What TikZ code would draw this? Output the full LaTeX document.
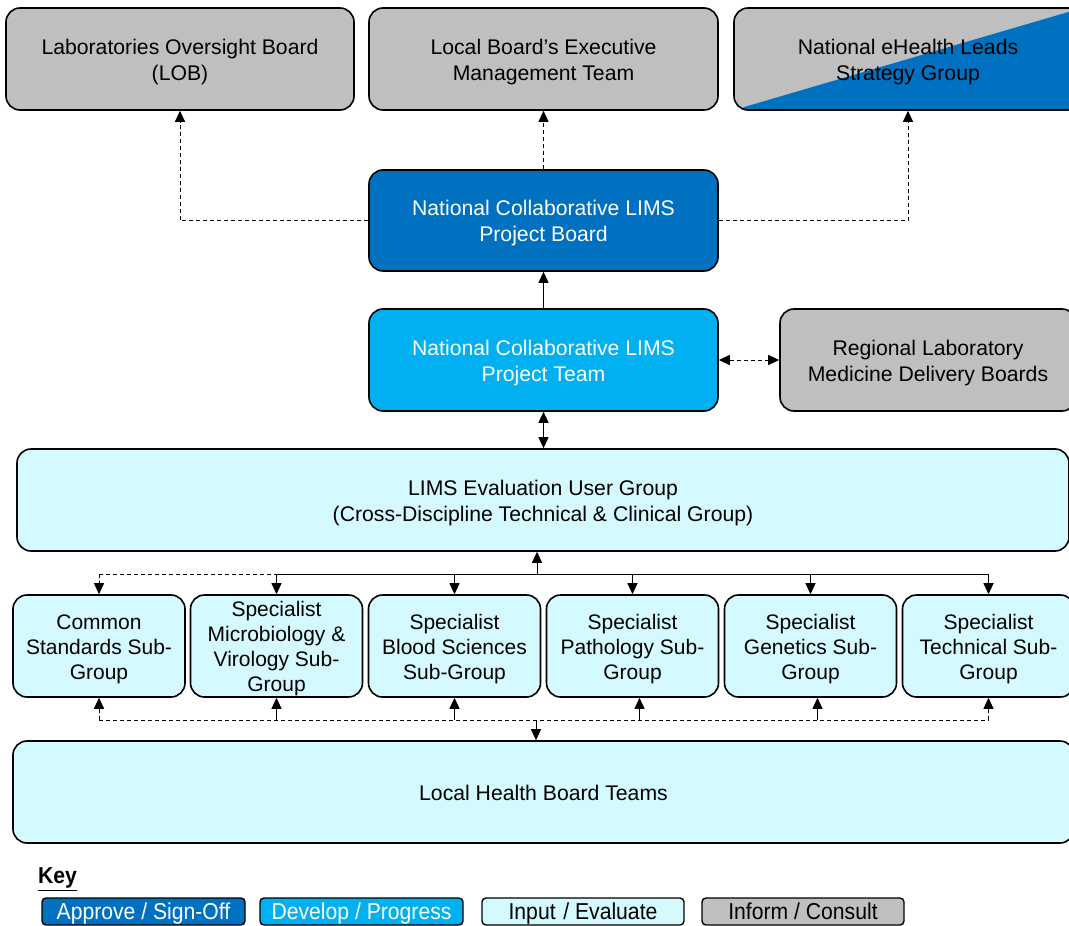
\documentclass[tikz,border=0pt]{standalone}
\usepackage{fontspec}
\setmainfont{Liberation Sans}
\newfontfamily\narrowfont[FakeStretch=0.92]{Liberation Sans}
\usetikzlibrary{arrows.meta}

\definecolor{approveblue}{HTML}{0070C0}
\definecolor{developblue}{HTML}{00B0F0}
\definecolor{inputcyan}{HTML}{D4F9FF}
\definecolor{informgray}{HTML}{BFBFBF}

% centred block of lines, set slightly below the box centre
\newcommand\boxlines[1]{\raisebox{-3pt}[\height][\depth]{\begin{tabular}{@{}c@{}}#1\end{tabular}}}

\begin{document}
\begin{tikzpicture}[x=1pt,y=-1pt,
  box/.style={draw=black, line width=1.6pt, rounded corners=14pt, align=center,
    inner sep=0pt, font=\fontsize{21.2}{26}\selectfont},
  bigbox/.style={box, minimum height=102pt},
  subbox/.style={box, minimum width=172pt, minimum height=102pt, font=\fontsize{21}{25}\selectfont},
  keybox/.style={draw=black, line width=1.4pt, rounded corners=4pt, minimum height=27pt,
    inner sep=0pt, text height=19.5pt, text depth=4pt,
    font=\narrowfont\fontsize{23}{24}\selectfont},
  approve/.style={fill=approveblue, text=white},
  develop/.style={fill=developblue, text=white},
  inputs/.style={fill=inputcyan},
  inform/.style={fill=informgray},
  link/.style={line width=1pt, draw=black},
  dlink/.style={link, dash pattern=on 4pt off 3pt},
  tip/.style={-{Triangle[length=11pt,width=10pt]}},
  tips/.style={{Triangle[length=11pt,width=10pt]}-{Triangle[length=11pt,width=10pt]}}
]
\useasboundingbox (0,0) rectangle (1069,926);
\clip (0,0) rectangle (1069,926);

% top row
\node[bigbox, inform, minimum width=348pt] (lob) at (180,59)
  {\boxlines{Laboratories Oversight Board\\(LOB)}};
\node[bigbox, inform, minimum width=349pt] (exec) at (543.5,59)
  {\boxlines{Local Board’s Executive\\Management Team}};
\node[bigbox, inform, minimum width=348pt,
  path picture={\fill[approveblue] (path picture bounding box.south west)
    -- (path picture bounding box.north east)
    -- (path picture bounding box.south east) -- cycle;}] (ehealth) at (908,59)
  {\boxlines{National eHealth Leads\\Strategy Group}};

% project board and team
\node[bigbox, approve, minimum width=349pt, minimum height=101pt] (board) at (543.5,220.5)
  {\boxlines{National Collaborative LIMS\\Project Board}};
\node[bigbox, develop, minimum width=349pt] (team) at (543.5,360)
  {\boxlines{National Collaborative LIMS\\Project Team}};
\node[bigbox, inform, minimum width=296pt] (regional) at (928,360)
  {\boxlines{Regional Laboratory\\Medicine Delivery Boards}};

% evaluation group
\node[bigbox, inputs, minimum width=1052pt] (eval) at (543,500)
  {\boxlines{LIMS Evaluation User Group\\(Cross-Discipline Technical \& Clinical Group)}};

% sub-groups
\node[subbox, inputs] (s1) at (99,646) {\boxlines{Common\\Standards Sub-\\Group}};
\node[subbox, inputs] (s2) at (276.5,646) {\boxlines{Specialist\\Microbiology \&\\Virology Sub-\\Group}};
\node[subbox, inputs] (s3) at (454.5,646) {\boxlines{Specialist\\Blood Sciences\\Sub-Group}};
\node[subbox, inputs] (s4) at (632.5,646) {\boxlines{Specialist\\Pathology Sub-\\Group}};
\node[subbox, inputs] (s5) at (810.5,646) {\boxlines{Specialist\\Genetics Sub-\\Group}};
\node[subbox, inputs] (s6) at (988.5,646) {\boxlines{Specialist\\Technical Sub-\\Group}};

% local teams
\node[bigbox, inputs, minimum width=1061pt] (lhb) at (543.5,792) {\boxlines{Local Health Board Teams}};

% key
\node[anchor=west, inner sep=0pt, font=\narrowfont\bfseries\fontsize{23}{24}\selectfont] (key) at (38,879) {\underline{Key}};
\node[keybox, approve, minimum width=203pt] (kapprove) at (143.5,911.5) {Approve / Sign-Off};
\node[keybox, develop, minimum width=203pt] (kdevelop) at (361.5,911.5) {Develop / Progress};
\node[keybox, inputs, minimum width=202pt] (kinput) at (583,911.5) {Input\,\,/ Evaluate};
\node[keybox, inform, minimum width=202pt] (kinform) at (803,911.5) {Inform / Consult};

% reporting lines from the project board
\draw[dlink, tip] (board.north) -- (exec.south);
\draw[dlink, tip] (board.west) -| (lob.south);
\draw[dlink, tip] (board.east) -| (ehealth.south);
\draw[link, tip] (team.north) -- (board.south);
\draw[dlink, tips] (team.east) -- (regional.west);
\draw[link, tips] (team.south) -- (team.south |- eval.north);

% upper bus between evaluation group and sub-groups
\coordinate (bt) at (537,574);
\draw[link, tip] (bt) -- (bt |- eval.south);
\draw[dlink] (s1.north |- bt) -- (s2.north |- bt);
\draw[link] (s2.north |- bt) -- (s6.north |- bt);
\draw[dlink, tip] (s1.north |- bt) -- (s1.north);
\foreach \s in {s2,s3,s4,s5,s6}
  \draw[link, tip] (\s.north |- bt) -- (\s.north);

% lower bus between sub-groups and local teams
\coordinate (bb) at (536,720);
\draw[dlink] (s1.south |- bb) -- (s6.south |- bb);
\draw[link, tip] (bb) -- (bb |- lhb.north);
\draw[dlink, tip] (s1.south |- bb) -- (s1.south);
\draw[link, tip] (s2.south |- bb) -- (s2.south);
\draw[link, tip] (s3.south |- bb) -- (s3.south);
\draw[link, tip] ([xshift=7pt]s4.south |- bb) -- ([xshift=7pt]s4.south);
\draw[link, tip] ([xshift=7pt]s5.south |- bb) -- ([xshift=7pt]s5.south);
\draw[dlink, tip] (s6.south |- bb) -- (s6.south);
\end{tikzpicture}
\end{document}
